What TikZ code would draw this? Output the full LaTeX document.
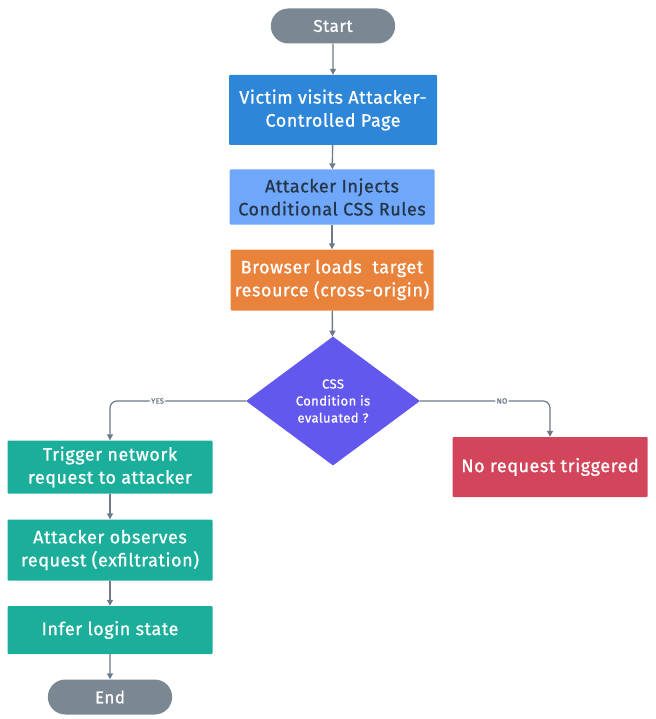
\documentclass[tikz,border=0pt]{standalone}
\usepackage{fontspec}
\setmainfont{Fira Sans}
\newfontfamily\medfont{Fira Sans}[FakeBold=0.9,LetterSpace=3]
\usetikzlibrary{arrows.meta,shapes.geometric,shapes.misc}
\definecolor{pillgray}{HTML}{7B8894}
\definecolor{visitblue}{HTML}{2D86D8}
\definecolor{injectblue}{HTML}{6FA8FB}
\definecolor{loadorange}{HTML}{E9823B}
\definecolor{condviolet}{HTML}{6358EE}
\definecolor{yesteal}{HTML}{1AAE9B}
\definecolor{nored}{HTML}{D2455A}
\definecolor{linegray}{HTML}{6C7A89}
\definecolor{darktext}{HTML}{26364A}

\begin{document}
\begin{tikzpicture}[x=1pt,y=-1pt,
  box/.style={rectangle,rounded corners=1pt,minimum width=205pt,align=center,
    text=white,font=\medfont\fontsize{18}{23}\selectfont},
  pill/.style={rounded rectangle,fill=pillgray,text=white,minimum width=131pt,
    minimum height=35pt,font=\medfont\fontsize{17}{19}\selectfont},
  arr/.style={-{Triangle[length=6pt,width=6pt]},linegray,line width=1.4pt},
  lbl/.style={fill=white,inner sep=1.5pt,text=linegray,font=\medfont\fontsize{7.5}{8}\selectfont}]
\useasboundingbox (0,0) rectangle (655,719);
% ---- main column ----
\node[pill] (start) at (333,26) {Start};
\node[box,fill=visitblue,minimum width=208pt,minimum height=70pt] (visit) at (333,110)
  {Victim visits Attacker-\\Controlled Page};
\node[box,fill=injectblue,text=darktext,minimum height=55pt] (inject) at (332,197)
  {Attacker Injects\\Conditional CSS Rules};
\node[box,fill=loadorange,minimum width=203pt,minimum height=61pt] (load) at (332,280)
  {Browser loads\ \ target\\resource (cross-origin)};
\node[diamond,fill=condviolet,text=white,minimum width=174pt,minimum height=129pt,
  inner sep=0pt,align=center,font=\medfont\fontsize{13}{17}\selectfont] (cond) at (333,401)
  {CSS\\Condition is\\evaluated ?};
% ---- yes branch ----
\node[box,fill=yesteal,minimum height=53pt] (trigger) at (110,467)
  {Trigger network\\request to attacker};
\node[box,fill=yesteal,minimum height=61pt] (observe) at (110,550)
  {Attacker observes\\request (exfiltration)};
\node[box,fill=yesteal,minimum height=48pt] (infer) at (110,630) {Infer login state};
\node[pill] (finish) at (110,697) {End};
% ---- no branch ----
\node[box,fill=nored,minimum width=195pt,minimum height=60pt] (norq) at (550,467)
  {No request triggered};
% ---- connectors ----
\draw[arr] (start) -- (visit);
\draw[arr] (visit) -- (inject);
\draw[arr] (inject) -- (load);
\draw[arr] (load) -- (cond);
\draw[arr,line width=1.2pt,rounded corners=7pt] (cond.west) -- node[lbl,pos=0.65]{YES}
  (trigger.north |- cond.west) -- (trigger.north);
\draw[arr,line width=1.2pt,rounded corners=7pt] (cond.east) -- node[lbl,pos=0.63]{NO}
  (norq.north |- cond.east) -- (norq.north);
\draw[arr] (trigger) -- (observe);
\draw[arr] (observe) -- (infer);
\draw[arr] (infer) -- (finish);
\end{tikzpicture}
\end{document}
